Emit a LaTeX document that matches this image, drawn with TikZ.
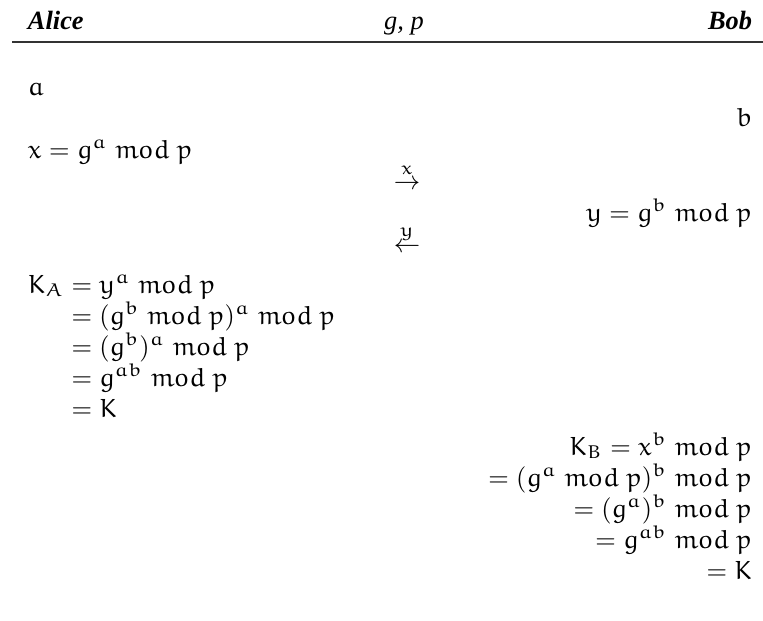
\documentclass[tikz,border=0pt]{standalone}
\usepackage{amsmath}
\usepackage{fontspec}
\newfontfamily\headfont{Liberation Serif}
\DeclareFontFamily{U}{eurx}{\skewchar\font'177}
\DeclareFontShape{U}{eurx}{m}{n}{<-6>eurm5<6-8>eurm7<8->eurm10}{}
\DeclareSymbolFont{eulerx}{U}{eurx}{m}{n}
\DeclareMathSymbol{a}{\mathalpha}{eulerx}{`a}
\DeclareMathSymbol{b}{\mathalpha}{eulerx}{`b}
\DeclareMathSymbol{d}{\mathalpha}{eulerx}{`d}
\DeclareMathSymbol{g}{\mathalpha}{eulerx}{`g}
\DeclareMathSymbol{m}{\mathalpha}{eulerx}{`m}
\DeclareMathSymbol{o}{\mathalpha}{eulerx}{`o}
\DeclareMathSymbol{p}{\mathalpha}{eulerx}{`p}
\DeclareMathSymbol{x}{\mathalpha}{eulerx}{`x}
\DeclareMathSymbol{y}{\mathalpha}{eulerx}{`y}
\DeclareMathSymbol{A}{\mathalpha}{eulerx}{`A}
\DeclareMathSymbol{B}{\mathalpha}{eulerx}{`B}
\DeclareMathSymbol{K}{\mathalpha}{eulerx}{`K}
\makeatletter
\renewcommand\operator@font{\mathgroup\symeulerx}
\makeatother
\begin{document}
\begin{tikzpicture}[x=0.379pt,y=-0.379pt,
  txt/.style={inner sep=0pt, outer sep=0pt},
  head/.style={txt, font=\headfont\fontsize{10}{12}\selectfont\bfseries\itshape},
  rule/.style={line width=0.55pt, draw=black!80}]
\useasboundingbox (0,0) rectangle (763,620);
% header
\node[head, anchor=base west] (alice) at (28,30) {Alice};
\node[txt, font=\headfont\fontsize{10}{12}\selectfont\itshape, anchor=base] (gp) at (404,30) {g, p};
\node[head, anchor=base east] (bob) at (752,30) {Bob};
\coordinate (r0) at (12,42);
\coordinate (r1) at (763,42);
\draw[rule] (r0) -- (r1);
% rows
\node[txt, anchor=base west] (a) at (28,95) {$a$};
\node[txt, anchor=base east] (b) at (752,126.5) {$b$};
\node[txt, anchor=base west] (xa) at (28,158) {$x = g^a \bmod p$};
\node[txt, anchor=base] (ax) at (407,189.5) {$\overset{x}{\rightarrow}$};
\node[txt, anchor=base east] (yb) at (752,221) {$y = g^b \bmod p$};
\node[txt, anchor=base] (ay) at (407,252.5) {$\overset{y}{\leftarrow}$};
% Alice key
\node[txt, anchor=base west] (ka) at (28,293) {$K_A$};
\node[txt, anchor=base west] (ka1) at (ka.base east) {${} = y^a \bmod p$};
\node[txt, anchor=base west] (ka2) at (ka1.west |- 0,324) {${} = (g^b \bmod p)^a \bmod p$};
\node[txt, anchor=base west] (ka3) at (ka1.west |- 0,355) {${} = (g^b)^a \bmod p$};
\node[txt, anchor=base west] (ka4) at (ka1.west |- 0,386) {${} = g^{ab} \bmod p$};
\node[txt, anchor=base west] (ka5) at (ka1.west |- 0,417) {${} = K$};
% Bob key
\node[txt, anchor=base east] (kb1) at (752,455) {$K_B = x^b \bmod p$};
\node[txt, anchor=base east] (kb2) at (752,486) {$= (g^a \bmod p)^b \bmod p$};
\node[txt, anchor=base east] (kb3) at (752,517) {$= (g^a)^b \bmod p$};
\node[txt, anchor=base east] (kb4) at (752,548) {$= g^{ab} \bmod p$};
\node[txt, anchor=base east] (kb5) at (752,579) {$= K$};
\end{tikzpicture}
\end{document}
